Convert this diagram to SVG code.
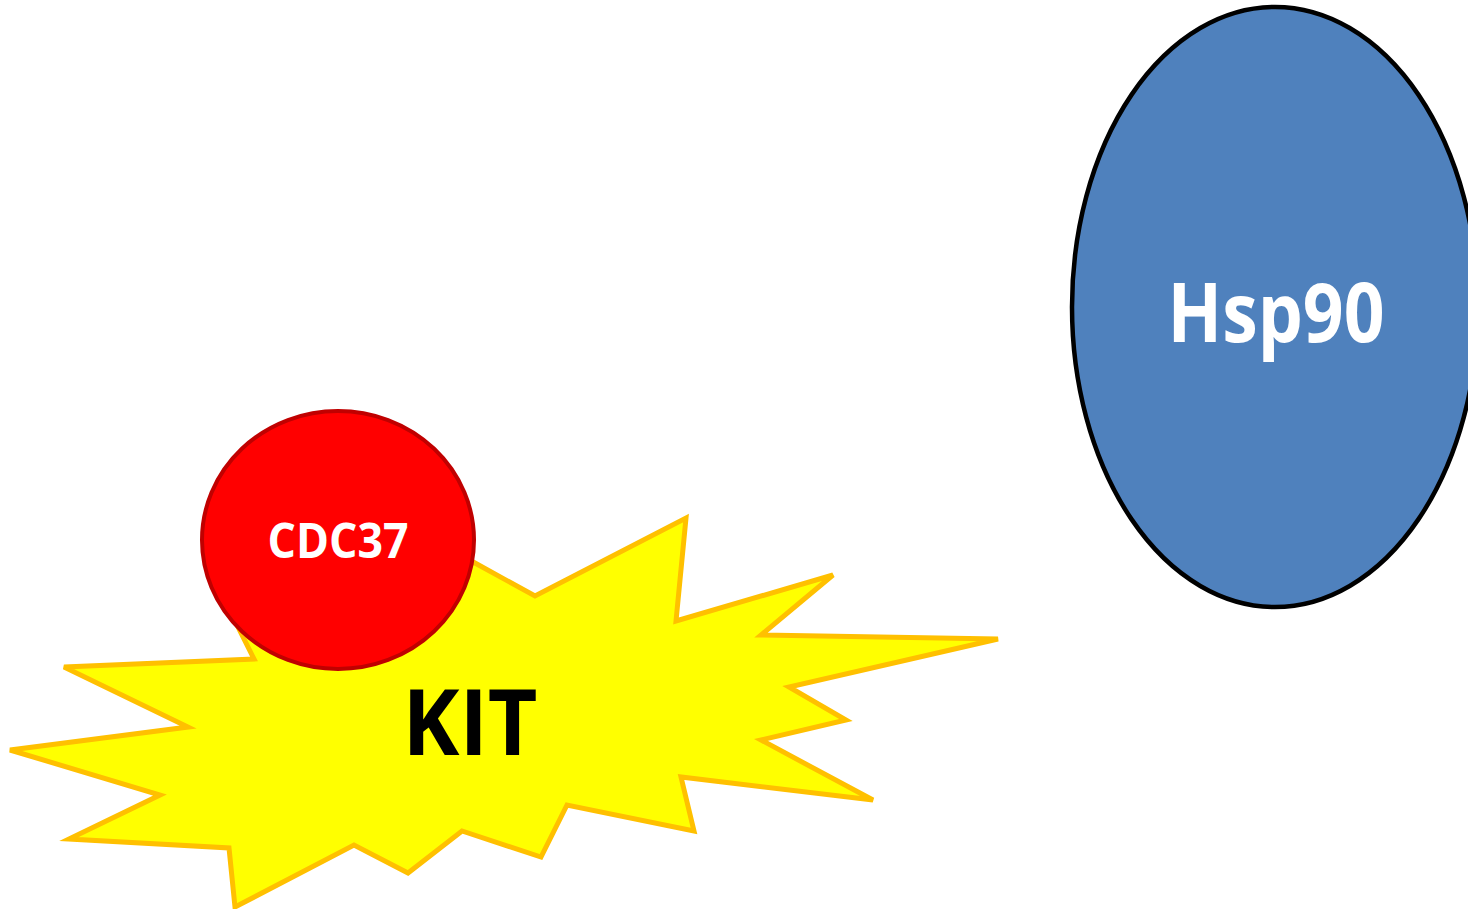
<svg xmlns="http://www.w3.org/2000/svg" width="1468" height="909" viewBox="0 0 1468 909">
<style>
.lbl{font-family:"Open Sans",Lato,"Liberation Sans",sans-serif;font-weight:bold;text-anchor:middle}
</style>
<rect width="1468" height="909" fill="#ffffff"/>
<g id="kit">
<polygon points="686,518 676,621 833,575 761,635 998,639 789,687 846,720 761,740 873,800 681,777 694,831 567,805 541,857 462,831 408,873 354,845 235,907 229,848 69,839 160,795 10,750 188,727 64,667 254,659 215,581 300,515 420,532 475,563 535,596" fill="#FFFF00" stroke="#FFC000" stroke-width="5" stroke-linejoin="miter"/>
<text class="lbl" x="470" y="755" font-size="92" fill="#000000" textLength="135" lengthAdjust="spacingAndGlyphs">KIT</text>
</g>
<g id="cdc37">
<ellipse cx="338" cy="540" rx="136" ry="129" fill="#FF0000" stroke="#C00000" stroke-width="4"/>
<text class="lbl" x="338" y="558" font-size="48" fill="#FFFFFF" textLength="141" lengthAdjust="spacingAndGlyphs">CDC37</text>
</g>
<g id="hsp90">
<ellipse cx="1275" cy="307" rx="203" ry="300" fill="#4F81BD" stroke="#000000" stroke-width="4.5"/>
<text class="lbl" x="1276" y="342" font-size="83" fill="#FFFFFF" textLength="217" lengthAdjust="spacingAndGlyphs">Hsp90</text>
</g>
<g id="connectors"></g>
</svg>
